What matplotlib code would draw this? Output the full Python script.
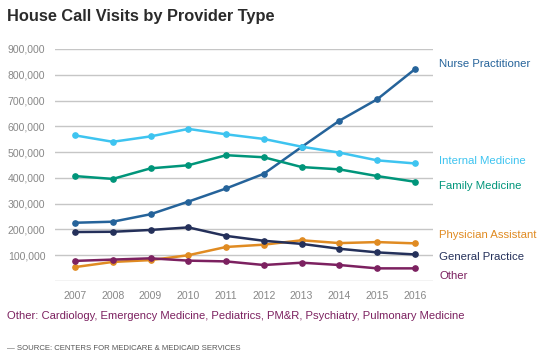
import matplotlib
matplotlib.use("Agg")
import matplotlib.pyplot as plt

years = [2007, 2008, 2009, 2010, 2011, 2012, 2013, 2014, 2015, 2016]
nurse_practitioner = [226000, 230000, 259000, 308000, 359000, 416000, 520000, 622000, 705000, 822000]
internal_medicine = [565000, 540000, 561000, 590000, 569000, 551000, 521000, 498000, 468000, 456000]
family_medicine = [407000, 396000, 437000, 449000, 488000, 480000, 442000, 433000, 407000, 385000]
physician_assistant = [54000, 74000, 81000, 100000, 132000, 141000, 158000, 147000, 151000, 146000]
general_practice = [190000, 191000, 198000, 208000, 175000, 156000, 144000, 125000, 111000, 103000]
other = [78000, 83000, 88000, 79000, 76000, 62000, 71000, 62000, 49000, 49000]

series = [
    ("Nurse Practitioner", nurse_practitioner, "#25639a"),
    ("Internal Medicine", internal_medicine, "#3ec4f0"),
    ("Family Medicine", family_medicine, "#00957a"),
    ("Physician Assistant", physician_assistant, "#e08b22"),
    ("General Practice", general_practice, "#24305a"),
    ("Other", other, "#7c2160"),
]
label_y = {"Nurse Practitioner": 64, "Internal Medicine": 161, "Family Medicine": 186,
           "Physician Assistant": 235, "General Practice": 257, "Other": 276}

yticks = [0, 100000, 200000, 300000, 400000, 500000, 600000, 700000, 800000, 900000]
ytick_labels = ["", "100,000", "200,000", "300,000", "400,000", "500,000",
                "600,000", "700,000", "800,000", "900,000"]

plt.rcParams["font.family"] = ["Liberation Sans", "DejaVu Sans"]

W, H = 549, 355
fig = plt.figure(figsize=(W / 100, H / 100), dpi=100)
ax = fig.add_axes([55 / W, 1 - 281 / H, (433 - 55) / W, (281 - 49) / H])
ax.set_xlim(2007 - 20 / 37.78, 2016 + 18 / 37.78)
ax.set_ylim(0, 900000)

for v in yticks:
    ax.axhline(v, color="#c6c6c6", lw=1.0, zorder=0)

for name, vals, col in series:
    ax.plot(years, vals, color=col, lw=1.8, marker="o", ms=3.8, zorder=3)
    fig.text(439 / W, 1 - label_y[name] / H, name, color=col, fontsize=8.2,
             va="center", ha="left")

for s in ax.spines.values():
    s.set_visible(False)
ax.set_yticks(yticks)
ax.set_yticklabels(ytick_labels)
ax.set_xticks(years)
ax.set_xticklabels([str(y) for y in years])
ax.tick_params(axis="both", length=0, labelsize=7.6, colors="#888888")
ax.tick_params(axis="y", pad=7)
ax.tick_params(axis="x", pad=7)

fig.text(7 / W, 1 - 17 / H, "House Call Visits by Provider Type", fontsize=11.8,
         fontweight="bold", color="#2b2b2b", va="center", ha="left")
fig.text(7 / W, 1 - 316 / H,
         "Other: Cardiology, Emergency Medicine, Pediatrics, PM&R, Psychiatry, Pulmonary Medicine",
         fontsize=8.1, color="#7c2160", va="center", ha="left")
fig.text(7 / W, 1 - 348 / H, "— SOURCE: CENTERS FOR MEDICARE & MEDICAID SERVICES",
         fontsize=5.6, color="#555555", va="center", ha="left")

fig.savefig("out.png", dpi=100)
